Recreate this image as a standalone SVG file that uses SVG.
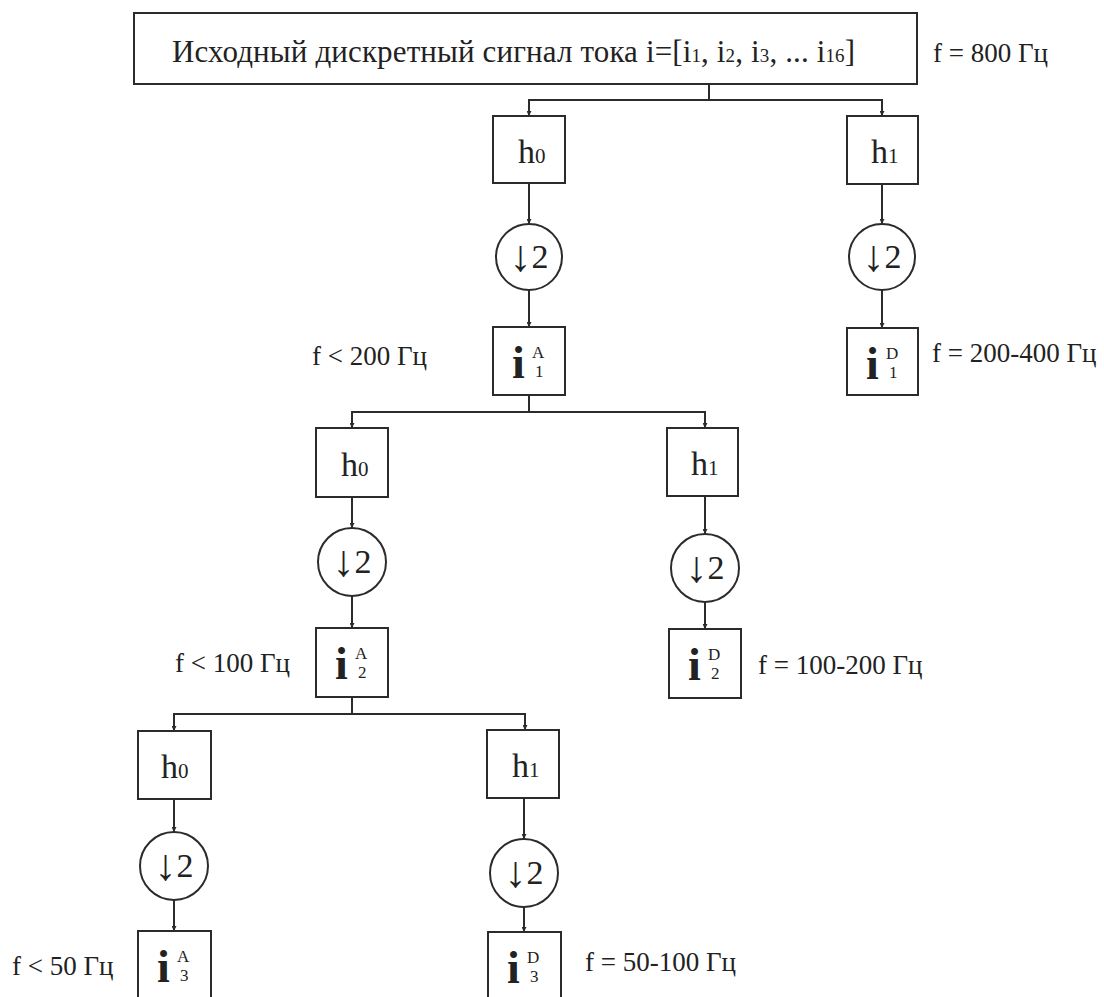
<svg xmlns="http://www.w3.org/2000/svg" width="1104" height="997" viewBox="0 0 1104 997">
<style>
  .box { fill: #fff; stroke: #2b2b2b; stroke-width: 2; }
  .ln { fill: none; stroke: #2b2b2b; stroke-width: 2; }
  .t { font-family: "Liberation Serif", "Times New Roman", serif; fill: #222; }
  .main { font-size: 31px; }
  .lab { font-size: 27px; }
  .h { font-size: 34px; }
  .hs { font-size: 21px; }
  .dn { font-size: 34px; }
  .ar { font-size: 44px; }
  .ib { font-size: 46px; font-weight: bold; }
  .is { font-size: 17px; }
</style>
<defs>
  <marker id="ah" viewBox="0 0 10 10" refX="10" refY="5" markerWidth="5" markerHeight="5" orient="auto" markerUnits="userSpaceOnUse">
    <path d="M0,0 L10,5 L0,10 z" fill="#2b2b2b"/>
  </marker>
</defs>

<g id="connectors">
  <path class="ln" d="M709,84 V100 H529 V116" marker-end="url(#ah)"/>
  <path class="ln" d="M709,100 H882 V116" marker-end="url(#ah)"/>
  <path class="ln" d="M529,183 V224" marker-end="url(#ah)"/>
  <path class="ln" d="M529,290 V327" marker-end="url(#ah)"/>
  <path class="ln" d="M882,184 V224" marker-end="url(#ah)"/>
  <path class="ln" d="M882,290 V328" marker-end="url(#ah)"/>
  <path class="ln" d="M529,395 V412 H352 V428" marker-end="url(#ah)"/>
  <path class="ln" d="M529,412 H705 V428" marker-end="url(#ah)"/>
  <path class="ln" d="M352,497 V528" marker-end="url(#ah)"/>
  <path class="ln" d="M352,596 V628" marker-end="url(#ah)"/>
  <path class="ln" d="M705,496 V534" marker-end="url(#ah)"/>
  <path class="ln" d="M705,602 V629" marker-end="url(#ah)"/>
  <path class="ln" d="M352,697 V714 H174 V731" marker-end="url(#ah)"/>
  <path class="ln" d="M352,714 H525 V730" marker-end="url(#ah)"/>
  <path class="ln" d="M174,799 V832" marker-end="url(#ah)"/>
  <path class="ln" d="M174,900 V931" marker-end="url(#ah)"/>
  <path class="ln" d="M524,798 V839" marker-end="url(#ah)"/>
  <path class="ln" d="M524,907 V932" marker-end="url(#ah)"/>
</g>

<g id="source">
  <rect class="box" x="134" y="13" width="783" height="71"/>
  <text class="t main" x="172" y="62" textLength="683" lengthAdjust="spacing">Исходный дискретный сигнал тока i=[i<tspan font-size="19">1</tspan>, i<tspan font-size="19">2</tspan>, i<tspan font-size="19">3</tspan>, ... i<tspan font-size="19">16</tspan>]</text>
</g>
<text id="lbl-800" class="t lab" x="933" y="62">f = 800 Гц</text>

<g id="h0-1">
  <rect class="box" x="493" y="116" width="72" height="67"/>
  <text class="t h" x="518" y="163">h<tspan class="hs">0</tspan></text>
</g>
<g id="h1-1">
  <rect class="box" x="847" y="116" width="71" height="68"/>
  <text class="t h" x="871" y="163">h<tspan class="hs">1</tspan></text>
</g>
<g id="ds-0-1">
  <circle class="box" cx="529" cy="257" r="33"/>
  <text class="t dn" x="529" y="268" text-anchor="middle"><tspan class="ar" dy="3">↓</tspan><tspan dy="-3">2</tspan></text>
</g>
<g id="ds-1-1">
  <circle class="box" cx="882" cy="257" r="33"/>
  <text class="t dn" x="882" y="268" text-anchor="middle"><tspan class="ar" dy="3">↓</tspan><tspan dy="-3">2</tspan></text>
</g>
<g id="iA1">
  <rect class="box" x="493" y="327" width="72" height="68"/>
  <text class="t ib" x="512" y="378">i</text>
  <text class="t is" x="532" y="358">A</text>
  <text class="t is" x="535" y="377">1</text>
</g>
<g id="iD1">
  <rect class="box" x="847" y="328" width="71" height="67"/>
  <text class="t ib" x="866" y="379">i</text>
  <text class="t is" x="886" y="359">D</text>
  <text class="t is" x="889" y="378">1</text>
</g>
<text id="lbl-200" class="t lab" x="312" y="365">f &lt; 200 Гц</text>
<text id="lbl-200-400" class="t lab" x="932" y="362">f = 200-400 Гц</text>

<g id="h0-2">
  <rect class="box" x="316" y="428" width="72" height="69"/>
  <text class="t h" x="341" y="476">h<tspan class="hs">0</tspan></text>
</g>
<g id="h1-2">
  <rect class="box" x="667" y="428" width="71" height="68"/>
  <text class="t h" x="691" y="475">h<tspan class="hs">1</tspan></text>
</g>
<g id="ds-0-2">
  <circle class="box" cx="352" cy="562" r="34"/>
  <text class="t dn" x="352" y="573" text-anchor="middle"><tspan class="ar" dy="3">↓</tspan><tspan dy="-3">2</tspan></text>
</g>
<g id="ds-1-2">
  <circle class="box" cx="705" cy="568" r="34"/>
  <text class="t dn" x="705" y="579" text-anchor="middle"><tspan class="ar" dy="3">↓</tspan><tspan dy="-3">2</tspan></text>
</g>
<g id="iA2">
  <rect class="box" x="316" y="628" width="72" height="69"/>
  <text class="t ib" x="335" y="679">i</text>
  <text class="t is" x="355" y="659">A</text>
  <text class="t is" x="358" y="678">2</text>
</g>
<g id="iD2">
  <rect class="box" x="669" y="629" width="72" height="69"/>
  <text class="t ib" x="688" y="680">i</text>
  <text class="t is" x="708" y="660">D</text>
  <text class="t is" x="711" y="679">2</text>
</g>
<text id="lbl-100" class="t lab" x="175" y="672">f &lt; 100 Гц</text>
<text id="lbl-100-200" class="t lab" x="758" y="674">f = 100-200 Гц</text>

<g id="h0-3">
  <rect class="box" x="138" y="731" width="73" height="68"/>
  <text class="t h" x="161" y="778">h<tspan class="hs">0</tspan></text>
</g>
<g id="h1-3">
  <rect class="box" x="487" y="730" width="72" height="68"/>
  <text class="t h" x="512" y="777">h<tspan class="hs">1</tspan></text>
</g>
<g id="ds-0-3">
  <circle class="box" cx="174" cy="866" r="34"/>
  <text class="t dn" x="174" y="877" text-anchor="middle"><tspan class="ar" dy="3">↓</tspan><tspan dy="-3">2</tspan></text>
</g>
<g id="ds-1-3">
  <circle class="box" cx="524" cy="873" r="34"/>
  <text class="t dn" x="524" y="884" text-anchor="middle"><tspan class="ar" dy="3">↓</tspan><tspan dy="-3">2</tspan></text>
</g>
<g id="iA3">
  <rect class="box" x="138" y="931" width="73" height="72"/>
  <text class="t ib" x="157" y="982">i</text>
  <text class="t is" x="177" y="962">A</text>
  <text class="t is" x="180" y="981">3</text>
</g>
<g id="iD3">
  <rect class="box" x="488" y="932" width="73" height="72"/>
  <text class="t ib" x="507" y="983">i</text>
  <text class="t is" x="527" y="963">D</text>
  <text class="t is" x="530" y="982">3</text>
</g>
<text id="lbl-50" class="t lab" x="12" y="975">f &lt; 50 Гц</text>
<text id="lbl-50-100" class="t lab" x="585" y="971">f = 50-100 Гц</text>
</svg>
